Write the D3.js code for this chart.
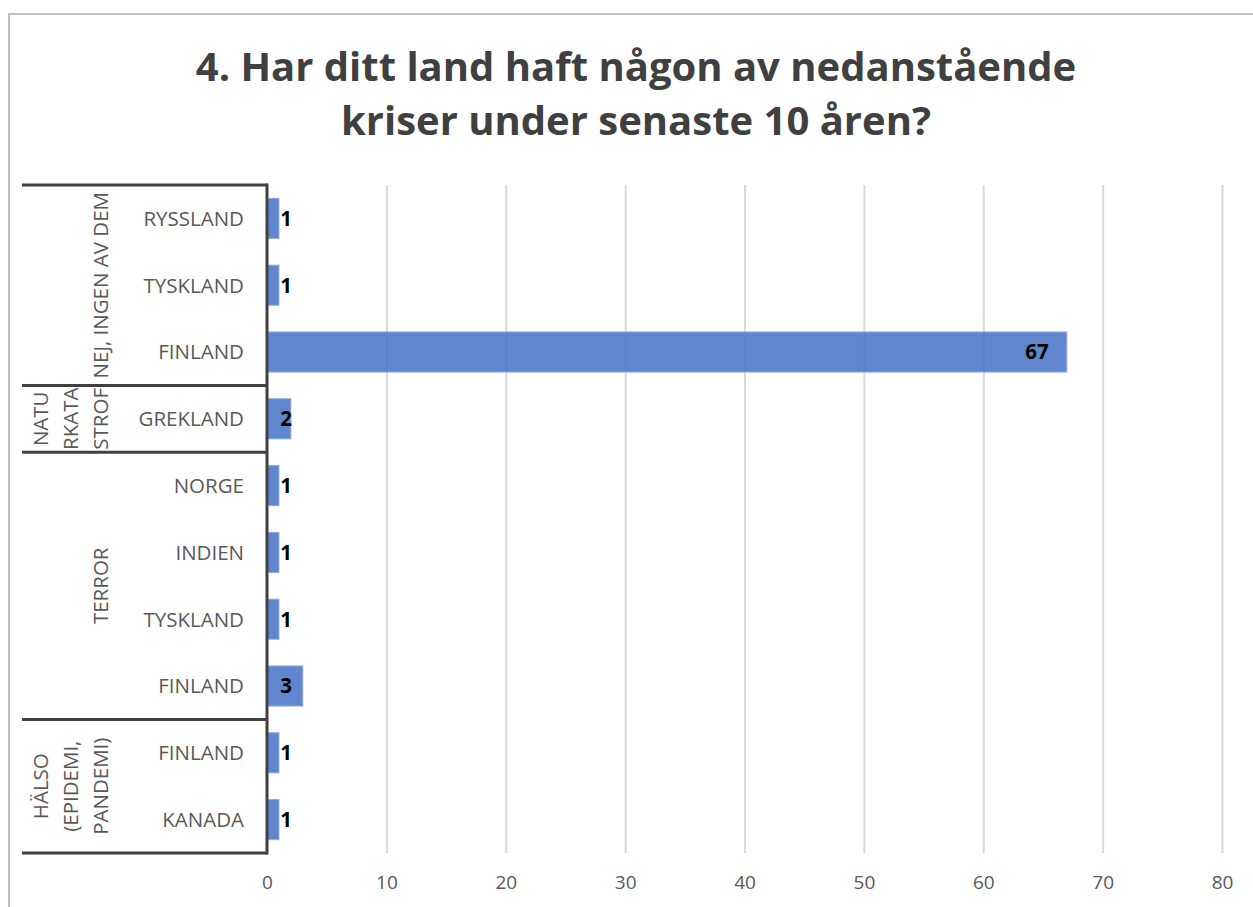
<!DOCTYPE html>
<html>
<head>
<meta charset="utf-8">
<script src="https://cdn.jsdelivr.net/npm/d3@7"></script>
<style>
  body { margin: 0; background: #fff; }
  svg { display: block; font-family: "Open Sans", Lato, sans-serif; }
</style>
</head>
<body>
<div class="chart"></div>
<script>
// data
const countries = ['RYSSLAND', 'TYSKLAND', 'FINLAND', 'GREKLAND', 'NORGE', 'INDIEN', 'TYSKLAND', 'FINLAND', 'FINLAND', 'KANADA'];
const groupOf = [0, 0, 0, 1, 2, 2, 2, 2, 3, 3];
const values = [1, 1, 67, 2, 1, 1, 1, 3, 1, 1];
// group labels as they wrap in the picture
const groupLabels = [
  ['NEJ, INGEN AV DEM'],
  ['NATU', 'RKATA', 'STROF'],
  ['TERROR'],
  ['HÄLSO', '(EPIDEMI,', 'PANDEMI)']
];
const tickValues = [0, 10, 20, 30, 40, 50, 60, 70, 80];
const titleLines = ['4. Har ditt land haft någon av nedanstående', 'kriser under senaste 10 åren?'];

const width = 1253;
const height = 907;
const plot = { left: 267, right: 1222, top: 185, bottom: 853 };
const groupLeft = 22;
const dark = '#404040';

const svg = d3.select('.chart')
  .append('svg')
    .attr('width', width)
    .attr('height', height);

// outer chart border
svg.append('rect')
  .attr('x', 9).attr('y', 14)
  .attr('width', width + 20).attr('height', height + 20)
  .attr('fill', '#fff')
  .attr('stroke', '#bfbfbf')
  .attr('stroke-width', 2);

// title
svg.append('text')
  .attr('text-anchor', 'middle')
  .attr('fill', dark)
  .attr('font-size', 40)
  .attr('font-weight', 'bold')
  .selectAll('tspan')
  .data(titleLines)
  .enter()
  .append('tspan')
    .attr('x', 636)
    .attr('y', (d, i) => 81 + i * 54)
    .text(d => d);

const xScale = d3.scaleLinear()
  .domain([0, 80])
  .range([plot.left, plot.right]);

const yScale = d3.scaleBand()
  .domain(d3.range(values.length))
  .range([plot.top, plot.bottom])
  .paddingInner(0.4)
  .paddingOuter(0.2);

// gridlines
const grid = svg.append('g')
  .attr('transform', `translate(0, ${plot.bottom})`)
  .call(d3.axisBottom(xScale).tickValues(tickValues.slice(1)).tickSize(-(plot.bottom - plot.top)).tickFormat(''));
grid.select('.domain').remove();
grid.selectAll('line').attr('stroke', '#d9d9d9').attr('stroke-width', 2);

// x tick labels
const xAxis = svg.append('g')
  .attr('transform', `translate(0, ${plot.bottom})`)
  .call(d3.axisBottom(xScale).tickValues(tickValues).tickSize(0).tickPadding(23));
xAxis.select('.domain').remove();
xAxis.selectAll('text')
  .attr('font-size', 19)
  .attr('font-family', '"Open Sans", sans-serif')
  .attr('fill', '#595959');

// bars
svg.selectAll('rect.bar')
  .data(values)
  .enter()
  .append('rect')
    .attr('class', 'bar')
    .attr('x', xScale(0))
    .attr('y', (d, i) => yScale(i))
    .attr('width', d => xScale(d) - xScale(0))
    .attr('height', yScale.bandwidth())
    .attr('fill', '#4472c4')
    .attr('fill-opacity', 0.85)
    .attr('stroke', '#8faadc')
    .attr('stroke-width', 1);

// value labels
svg.selectAll('text.value')
  .data(values)
  .enter()
  .append('text')
    .attr('class', 'value')
    .attr('x', d => Math.max(xScale(d) - 18, xScale(0) + 25))
    .attr('y', (d, i) => yScale(i) + yScale.bandwidth() / 2)
    .attr('dy', '0.36em')
    .attr('text-anchor', 'end')
    .attr('font-size', 20.5)
    .attr('font-weight', 'bold')
    .attr('fill', '#000')
    .text(d => d);

// category labels
const step = yScale.step();
const rowCenter = i => plot.top + step * (i + 0.5);
svg.selectAll('text.cat')
  .data(countries)
  .enter()
  .append('text')
    .attr('class', 'cat')
    .attr('x', 244)
    .attr('y', (d, i) => rowCenter(i))
    .attr('dy', '0.36em')
    .attr('text-anchor', 'end')
    .attr('font-size', 20.5)
    .attr('fill', '#595959')
    .text(d => d);

// group spans
const groups = groupLabels.map((lines, g) => {
  const rows = d3.range(values.length).filter(i => groupOf[i] === g);
  return {
    lines: lines,
    y0: plot.top + step * d3.min(rows),
    y1: plot.top + step * (d3.max(rows) + 1)
  };
});

// group separators
const bounds = [plot.top].concat(groups.map(g => g.y1));
svg.selectAll('line.sep')
  .data(bounds)
  .enter()
  .append('line')
    .attr('class', 'sep')
    .attr('x1', groupLeft)
    .attr('x2', plot.left)
    .attr('y1', d => d)
    .attr('y2', d => d)
    .attr('stroke', dark)
    .attr('stroke-width', 3);

// vertical axis line
svg.append('line')
  .attr('x1', plot.left).attr('x2', plot.left)
  .attr('y1', plot.top - 1.5).attr('y2', plot.bottom + 1.5)
  .attr('stroke', dark)
  .attr('stroke-width', 3);

// rotated group labels, bottom aligned towards the category column
const groupText = svg.selectAll('g.grp')
  .data(groups)
  .enter()
  .append('g')
    .attr('class', 'grp')
    .attr('transform', d => `translate(108, ${(d.y0 + d.y1) / 2}) rotate(-90)`);

groupText.append('text')
  .attr('text-anchor', 'middle')
  .attr('font-size', 20.5)
  .attr('fill', '#595959')
  .selectAll('tspan')
  .data(d => d.lines.map((t, i) => ({ t: t, off: (d.lines.length - 1 - i) * 30 })))
  .enter()
  .append('tspan')
    .attr('x', 0)
    .attr('y', d => -d.off)
    .text(d => d.t);
</script>
</body>
</html>
